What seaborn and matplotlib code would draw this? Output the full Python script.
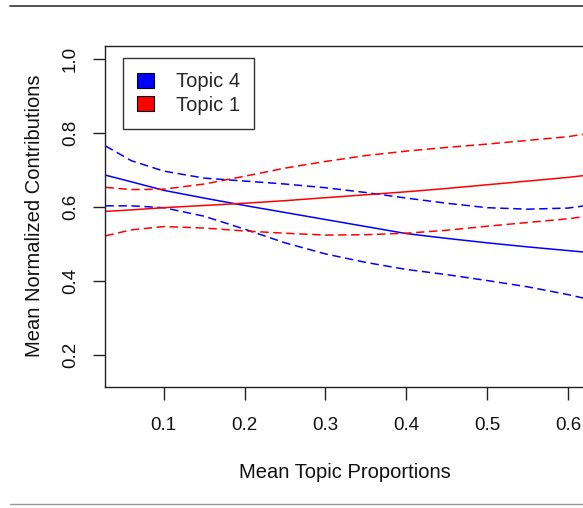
import matplotlib
matplotlib.use("Agg")
import matplotlib.pyplot as plt
from matplotlib.patches import Patch
from matplotlib.lines import Line2D
import numpy as np
import pandas as pd
import seaborn as sns

# values
x_vals = [0.028, 0.06, 0.10, 0.15, 0.20, 0.25, 0.30, 0.35, 0.40, 0.45, 0.50, 0.55, 0.60, 0.62]

topic4_mean = [0.686, 0.668, 0.645, 0.624, 0.604, 0.585, 0.566, 0.547, 0.528, 0.515, 0.503, 0.492, 0.482, 0.478]
topic4_upper = [0.765, 0.725, 0.697, 0.678, 0.670, 0.662, 0.652, 0.639, 0.624, 0.610, 0.598, 0.594, 0.597, 0.603]
topic4_lower = [0.603, 0.603, 0.598, 0.575, 0.540, 0.503, 0.473, 0.450, 0.431, 0.417, 0.401, 0.384, 0.363, 0.353]

topic1_mean = [0.588, 0.592, 0.598, 0.604, 0.610, 0.617, 0.625, 0.633, 0.641, 0.650, 0.660, 0.670, 0.680, 0.685]
topic1_upper = [0.653, 0.647, 0.648, 0.662, 0.683, 0.705, 0.723, 0.739, 0.751, 0.761, 0.770, 0.780, 0.790, 0.797]
topic1_lower = [0.522, 0.538, 0.547, 0.543, 0.535, 0.529, 0.524, 0.525, 0.529, 0.537, 0.548, 0.558, 0.568, 0.574]

legend_labels = ["Topic 4", "Topic 1"]
x_ticks = [0.1, 0.2, 0.3, 0.4, 0.5, 0.6]
y_ticks = [0.2, 0.4, 0.6, 0.8, 1.0]

sns.set_theme(style="white")
plt.rcParams["font.family"] = ["Liberation Sans", "DejaVu Sans"]

fig = plt.figure(figsize=(5.83, 5.08), dpi=100)
ax = fig.add_axes([105.3 / 583, (508 - 386.7) / 508, 479.4 / 583, 341.0 / 508])

dash = (5.5, 3)
series = [
    (topic4_mean, "blue", None),
    (topic4_upper, "blue", dash),
    (topic4_lower, "blue", dash),
    (topic1_mean, "red", None),
    (topic1_upper, "red", dash),
    (topic1_lower, "red", dash),
]
for vals, col, ds in series:
    df = pd.DataFrame({"x": x_vals, "y": vals})
    sns.lineplot(data=df, x="x", y="y", color=col, linewidth=1.1, ax=ax,
                 estimator=None, sort=True)
    if ds is not None:
        ax.lines[-1].set_dashes(ds)

ax.set_xlim(0.0278, 0.6205)
ax.set_ylim(0.114, 1.036)
ax.set_xticks(x_ticks)
ax.set_yticks(y_ticks)
ax.set_xticklabels([f"{t:.1f}" for t in x_ticks])
ax.set_yticklabels([f"{t:.1f}" for t in y_ticks], rotation=90, va="center")

for s in ax.spines.values():
    s.set_color("#222222")
    s.set_linewidth(1.0)
ax.tick_params(axis="both", direction="out", length=9, width=1.0,
               color="#222222", labelsize=13.5, labelcolor="#111111")
ax.tick_params(axis="x", pad=13, bottom=True)
ax.tick_params(axis="y", pad=10, left=True)

ax.set_xlabel("Mean Topic Proportions", fontsize=14.5, color="#111111")
ax.set_ylabel("Mean Normalized Contributions", fontsize=14.5, color="#111111")
ax.xaxis.label.set_va("center")
ax.yaxis.label.set_va("center")
ax.xaxis.set_label_coords(0.5, -(473 - 386.7) / 341.0)
ax.yaxis.set_label_coords(-(105.3 - 35) / 479.4, 0.5)

handles = [Patch(facecolor="blue", edgecolor="black", linewidth=0.8),
           Patch(facecolor="red", edgecolor="black", linewidth=0.8)]
leg = ax.legend(handles, legend_labels, loc="upper left",
                bbox_to_anchor=(18 / 479.4, 1 - 12.6 / 341.0), borderaxespad=0,
                fontsize=14.5, fancybox=False, framealpha=1, edgecolor="#333333",
                handlelength=0.8, handleheight=0.75, handletextpad=1.1,
                labelspacing=0.22, borderpad=0.7)
leg.get_frame().set_linewidth(1.0)

# rules above and below the chart
fig.add_artist(Line2D([10 / 583, 1], [1 - 5.5 / 508] * 2, color="#444444", linewidth=1.3))
fig.add_artist(Line2D([10 / 583, 1], [1 - 504 / 508] * 2, color="#999999", linewidth=1.0))

fig.savefig("out.png", dpi=100, facecolor="white")
